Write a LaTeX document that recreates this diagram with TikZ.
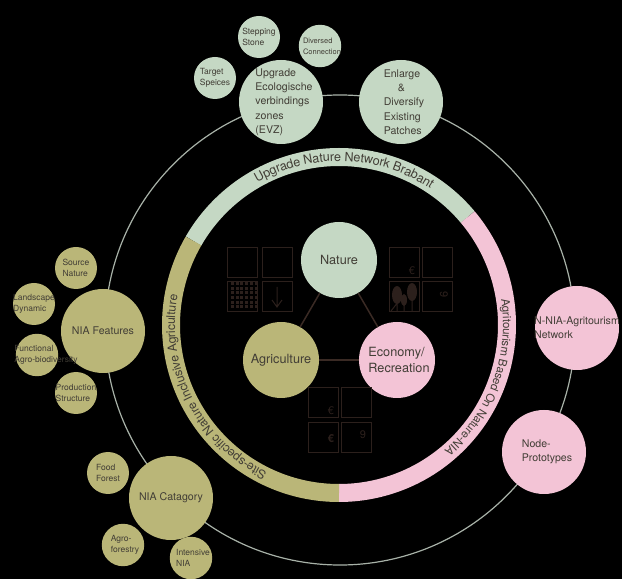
\documentclass[tikz,border=0pt]{standalone}
\usepackage{fontspec}
\setmainfont{TeX Gyre Heros}
\usepackage{tikz}
\usetikzlibrary{decorations.text}
\usepackage{xcolor}
\definecolor{natgreen}{RGB}{197,216,196}
\definecolor{agrolive}{RGB}{186,182,120}
\definecolor{ecopink}{RGB}{243,196,214}
\definecolor{inktxt}{RGB}{66,62,54}
\definecolor{iconbrown}{RGB}{44,32,28}
\definecolor{linkbrown}{RGB}{58,42,36}
\definecolor{ringgrey}{RGB}{168,178,168}

\begin{document}
\begin{tikzpicture}[x=1pt, y=1pt,
    bigc/.style={circle, minimum size=84pt, inner sep=-25pt, align=left, text=inktxt, font=\fontsize{10.6}{14.3}\selectfont},
    smallc/.style={circle, minimum size=42pt, inner sep=-15pt, align=left, text=inktxt, font=\fontsize{8.5}{11}\selectfont},
    corec/.style={circle, minimum size=76pt, inner sep=-25pt, align=left, text=inktxt, font=\fontsize{12.7}{16}\selectfont},
    iconbox/.style={draw=iconbrown, line width=1pt, minimum size=30pt, inner sep=0pt},
    icontxt/.style={text=iconbrown, inner sep=0pt, font=\fontsize{11}{11}\selectfont},
    link/.style={draw=linkbrown, line width=1.5pt},
    bandtxt/.style={decorate, decoration={text along path, raise=-4pt, text color=inktxt}}]
  \useasboundingbox (0,0) rectangle (622,579);
  \fill[black] (0,0) rectangle (622,579);
  % Outer ring
  \coordinate (bandc) at (339,254);
  \draw[ringgrey, line width=1.2pt] (340,249) circle [radius=235];
  % Band
  \draw[natgreen, line width=18pt] (bandc) ++(150:168) arc [start angle=150, end angle=40, radius=168];
  \draw[ecopink, line width=18pt] (bandc) ++(40:168) arc [start angle=40, end angle=-90, radius=168];
  \draw[agrolive, line width=18pt] (bandc) ++(270:168) arc [start angle=270, end angle=150, radius=168];
  \path[bandtxt, decoration={text={|\fontsize{12.6}{12.6}\selectfont|Upgrade Nature Network Brabant}, text align=center}]
    (bandc) ++(140:168) arc [start angle=140, end angle=36, radius=168];
  \path[bandtxt, decoration={text={|\fontsize{11.5}{11.5}\selectfont|Agritourism Based On Nature-NIA}, text align=left}]
    (bandc) ++(9:168) arc [start angle=9, end angle=-70, radius=168];
  \path[bandtxt, decoration={text={|\fontsize{12.2}{12.2}\selectfont|Site-specific Nature Inclusive Agriculture}, text align=left}]
    (bandc) ++(244:168) arc [start angle=244, end angle=160, radius=168];
  % Core
  \node[corec, fill=natgreen] (nature) at (339,319) {Nature};
  \node[corec, fill=agrolive] (agri) at (281,219) {Agriculture};
  \node[corec, fill=ecopink] (econ) at (397,219) {};
  \node[corec] (econtxt) at (399,219) {Economy/\\Recreation};
  \draw[link] (nature) -- (agri);
  \draw[link] (nature) -- (econ);
  \draw[link] (agri) -- (econ);
  % Icons nature
  \node[iconbox] (na) at (242.5,316) {};
  \node[iconbox] (nb) at (277,316) {};
  \node[iconbox] (nc) at (242.5,282) {};
  \node[iconbox] (nd) at (277,282) {};
  \foreach \i in {0,...,5}
    \foreach \j in {0,...,5}
      \fill[iconbrown] (231+\i*4.7,270.5+\j*4.7) rectangle ++(3,3);
  \draw[iconbrown, line width=1pt] (277,292) -- (277,272) (272,279) -- (277,272) -- (282,279);
  % Icons economy
  \node[iconbox] (ea) at (404,316) {};
  \node[iconbox] (eb) at (437,316) {};
  \node[iconbox] (ec) at (404,282) {};
  \node[iconbox] (ed) at (437,282) {};
  \node[icontxt] (eeuro) at (412,308) {€};
  \node[icontxt, rotate=-90] (enine) at (444,284) {9};
  \fill[iconbrown] (397,284) ellipse [x radius=5, y radius=9];
  \fill[iconbrown] (412,287) ellipse [x radius=5, y radius=9];
  \fill[iconbrown] (404,279) ellipse [x radius=3, y radius=6];
  \draw[iconbrown, line width=1pt] (397,268) -- (397,280) (404,268) -- (404,278) (412,268) -- (412,282) (391,268) -- (402,282);
  % Icons agriculture
  \node[iconbox] (aa) at (323,176) {};
  \node[iconbox] (ab) at (356,176) {};
  \node[iconbox] (ac) at (323,141) {};
  \node[iconbox] (ad) at (356,141) {};
  \node[icontxt] (aeuro) at (331,168) {€};
  \node[icontxt, font=\fontsize{11}{11}\selectfont\bfseries] (aeurob) at (331,140) {€};
  \node[icontxt] (anine) at (363,144) {9};
  % Nature branch
  \node[bigc, fill=natgreen] (evz) at (281,477) {};
  \node[bigc] (evztxt) at (284,477) {Upgrade\\Ecologische\\verbindings\\zones\\(EVZ)};
  \node[bigc, fill=natgreen] (enlarge) at (401,477) {};
  \node[bigc] (enlargetxt) at (404,477) {Enlarge\\\hspace*{14pt}\&\\Diversify\\Existing\\Patches};
  \node[smallc, fill=natgreen] (stepstone) at (259,542) {Stepping\\Stone};
  \node[smallc, fill=natgreen] (divers) at (320,533) {};
  \node[smallc, font=\fontsize{7.5}{11}\selectfont] (diverstxt) at (322,533) {Diversed\\Connection};
  \node[smallc, fill=natgreen] (target) at (215,501) {Target\\Speices};
  % Agriculture branch
  \node[bigc, fill=agrolive] (feat) at (103,248) {NIA Features};
  \node[smallc, fill=agrolive] (source) at (76,311) {Source\\Nature};
  \node[smallc, fill=agrolive] (land) at (34,275) {Landscape\\Dynamic};
  \node[smallc, fill=agrolive] (func) at (37,224) {};
  \node[smallc] (functxt) at (46,224) {Functional\\Agro-biodiversity};
  \node[smallc, fill=agrolive] (prod) at (76,186) {Production\\Structure};
  \node[bigc, fill=agrolive] (cat) at (171,81) {NIA Catagory};
  \node[smallc, fill=agrolive] (food) at (108,106) {Food\\Forest};
  \node[smallc, fill=agrolive] (agro) at (123,34) {};
  \node[smallc] (agrotxt) at (125,34) {Agro-\\forestry};
  \node[smallc, fill=agrolive] (intens) at (191,21) {};
  \node[smallc] (intenstxt) at (193,21) {Intensive\\NIA};
  % Economy branch
  \node[bigc, fill=ecopink] (net) at (577,251) {N-NIA-Agritourism\\Network};
  \node[bigc, fill=ecopink] (proto) at (544,127) {};
  \node[bigc] (prototxt) at (547,127) {Node-\\Prototypes};
\end{tikzpicture}
\end{document}
